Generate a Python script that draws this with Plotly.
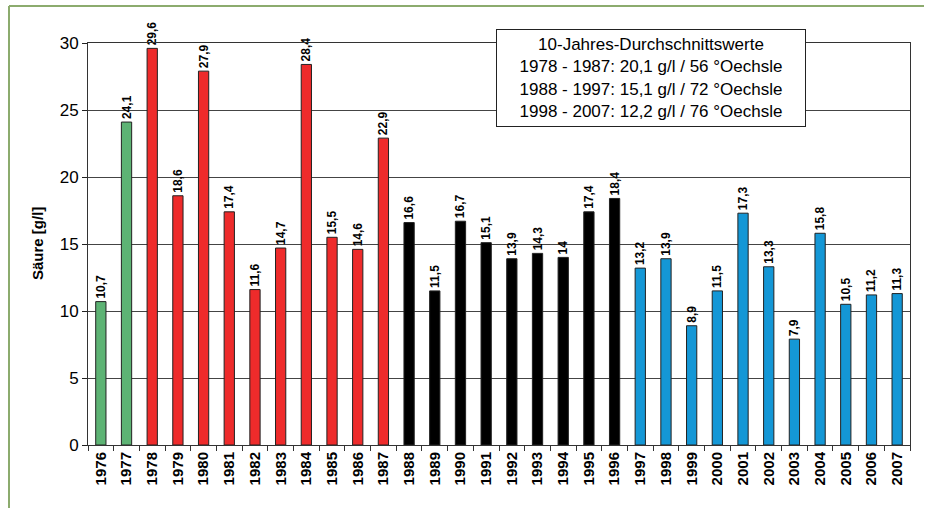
import plotly.graph_objects as go

# Harvest years and acidity values (g/l)
years = [str(y) for y in range(1976, 2008)]
acid = [10.7, 24.1, 29.6, 18.6, 27.9, 17.4, 11.6, 14.7, 28.4, 15.5, 14.6, 22.9,
        16.6, 11.5, 16.7, 15.1, 13.9, 14.3, 14.0, 17.4, 18.4,
        13.2, 13.9, 8.9, 11.5, 17.3, 13.3, 7.9, 15.8, 10.5, 11.2, 11.3]

# Decade groups used for colouring
group_colors = {"pre": "#5db374", "d1": "#ee2b2b", "d2": "#000000", "d3": "#1497d6"}
groups = ["pre"] * 2 + ["d1"] * 10 + ["d2"] * 9 + ["d3"] * 11
bar_colors = [group_colors[g] for g in groups]

y_ticks = [0, 5, 10, 15, 20, 25, 30]

box_lines = [
    "10-Jahres-Durchschnittswerte",
    "1978 - 1987: 20,1 g/l / 56 °Oechsle",
    "1988 - 1997: 15,1 g/l / 72 °Oechsle",
    "1998 - 2007: 12,2 g/l / 76 °Oechsle",
]


def de_fmt(v):
    s = f"{v:.1f}".replace(".", ",")
    return s[:-2] if s.endswith(",0") else s


FONT = "Liberation Sans, Arial, sans-serif"

fig = go.Figure(
    go.Bar(
        x=years,
        y=acid,
        marker=dict(color=bar_colors, line=dict(color="#222222", width=1)),
        text=[de_fmt(v) for v in acid],
        textposition="outside",
        textangle=-90,
        constraintext="none",
        textfont=dict(family=FONT, size=12, color="black", weight="bold"),
        cliponaxis=False,
        hoverinfo="skip",
    )
)

W, H = 925, 508
L, R, T, B = 88, 15, 43, 63
pw, ph = W - L - R, H - T - B


def px_x(px):
    return (px - L) / pw


def px_y(py):
    return (H - B - py) / ph


fig.update_layout(
    width=W,
    height=H,
    margin=dict(l=L, r=R, t=T, b=B, pad=0),
    paper_bgcolor="white",
    plot_bgcolor="white",
    bargap=0.6,
    showlegend=False,
    font=dict(family=FONT, color="black"),
    xaxis=dict(
        type="category",
        tickson="boundaries",
        ticks="outside",
        ticklen=5,
        tickcolor="#333333",
        tickangle=-90,
        tickfont=dict(family=FONT, size=15, color="black", weight="bold"),
        showline=True,
        linecolor="#333333",
        linewidth=1,
        mirror=True,
        showgrid=False,
    ),
    yaxis=dict(
        range=[0, 30],
        tickvals=y_ticks,
        ticks="outside",
        ticklen=5,
        tickcolor="#222222",
        tickfont=dict(family=FONT, size=17, color="black"),
        showline=True,
        linecolor="#333333",
        linewidth=1,
        mirror=True,
        showgrid=True,
        gridcolor="#444444",
        gridwidth=1,
        zeroline=False,
    ),
    annotations=[
        dict(
            text="Säure [g/l]",
            xref="paper", yref="paper",
            x=px_x(37), y=0.5,
            xanchor="center", yanchor="middle",
            textangle=-90,
            showarrow=False,
            font=dict(family=FONT, size=15, color="black", weight="bold"),
        ),
        dict(
            text="<br>".join(box_lines),
            xref="paper", yref="paper",
            x=px_x(651), y=px_y(78),
            xanchor="center", yanchor="middle",
            align="center",
            valign="middle",
            width=306,
            height=94,
            showarrow=False,
            bgcolor="white",
            bordercolor="#222222",
            borderwidth=1,
            borderpad=1,
            font=dict(family=FONT, size=17, color="black"),
        ),
    ],
    shapes=[
        # thin green frame around the figure
        dict(type="line", xref="paper", yref="paper",
             x0=px_x(9), x1=px_x(924), y0=px_y(6), y1=px_y(6),
             line=dict(color="#8cab6e", width=2)),
        dict(type="line", xref="paper", yref="paper",
             x0=px_x(9), x1=px_x(9), y0=px_y(6), y1=px_y(508),
             line=dict(color="#8cab6e", width=2)),
    ],
)

fig.write_html("out.html")
